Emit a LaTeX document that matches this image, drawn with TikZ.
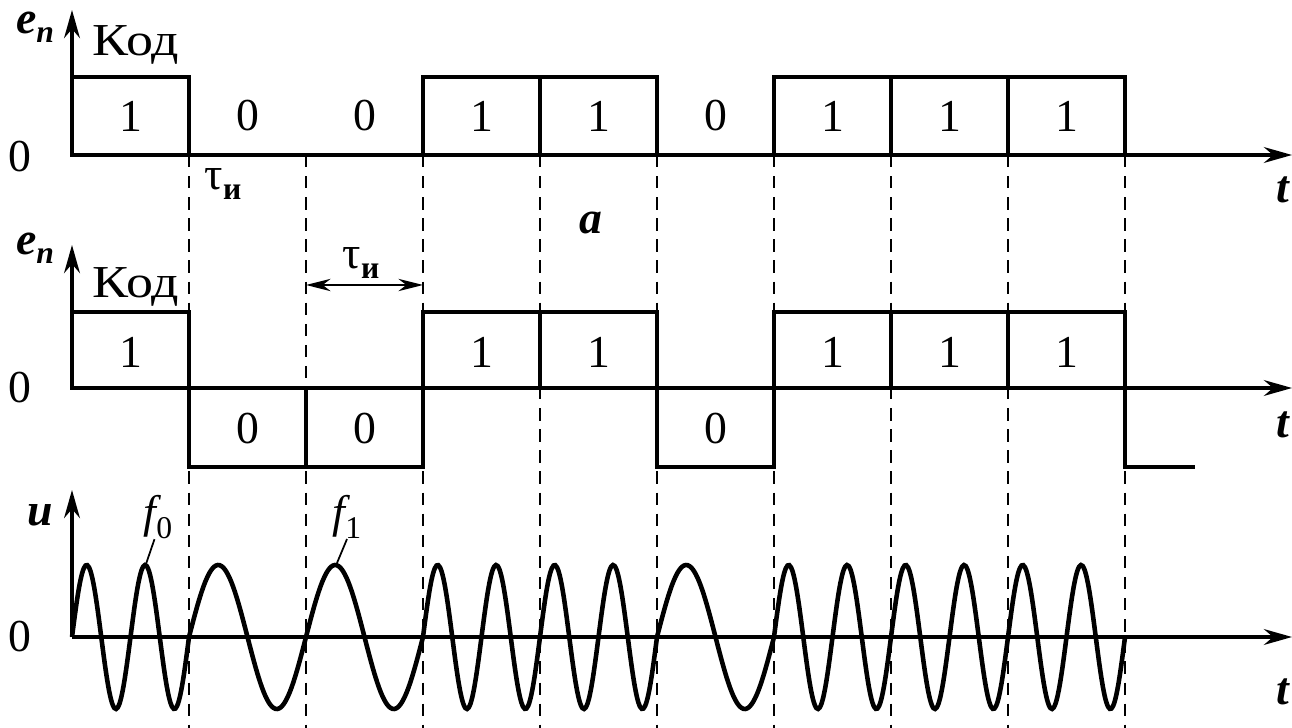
\documentclass[tikz,border=0pt]{standalone}
\usepackage{fontspec}
\setmainfont{Liberation Serif}
\usetikzlibrary{arrows.meta,positioning}
\newcommand{\enlbl}{{\bfseries\itshape e}\raisebox{-0.45ex}{\small\bfseries\itshape n}}
\newcommand{\taulbl}{τ\raisebox{-0.5ex}{\small\bfseries и}}
\newcommand{\kodlbl}{\scalebox{1.18}[1]{Код}}

\begin{document}
\begin{tikzpicture}[x=0.01cm,y=-0.01cm,
  sig/.style={line width=1.3pt,line join=miter},
  axis/.style={line width=0.9pt,-{Stealth[length=8pt,width=4.5pt]}},
  vline/.style={line width=0.6pt,dash pattern=on 3.5pt off 2.5pt},
  lbl/.style={font=\fontsize{13}{15}\selectfont,inner sep=1pt}]
\useasboundingbox (0,0) rectangle (1292,728);
% dashed bit boundaries
\foreach \x in {189,306,423,540,657,774,891,1008,1125} {\draw[vline] (\x,155) -- (\x,728);}
% a: code
\draw[axis] (72,155) -- (1292,155);
\draw[axis] (72,155) -- (72,10);
\draw[sig] (72,155) rectangle (189,77);
\draw[sig] (423,155) rectangle (540,77);
\draw[sig] (540,155) rectangle (657,77);
\foreach \x in {774,891,1008} {\draw[sig] (\x,155) rectangle (\x+117,77);}
\node[lbl] (enA) at (35,27) {\enlbl};
\node[lbl] (codeA) at (136,45) {\kodlbl};
\node[lbl] (zeroA) at (20,157) {0};
\node[lbl] (tauA) at (223,184) {\taulbl};
\node[lbl] (tA) at (1283,190) {\bfseries\itshape t};
\node[lbl] (capA) at (591,223) {\bfseries\itshape a};
\foreach \b [count=\i from 0] in {1,0,0,1,1,0,1,1,1} {\node[lbl] (bitA\i) at (72+117*\i+58.5,116) {\b};}
% b: bipolar code
\draw[axis] (72,388) -- (1292,388);
\draw[axis] (72,388) -- (72,245);
\draw[sig] (72,388) rectangle (189,312);
\draw[sig] (189,388) rectangle (306,467);
\draw[sig] (306,388) rectangle (423,467);
\draw[sig] (423,388) rectangle (540,312);
\draw[sig] (540,388) rectangle (657,312);
\draw[sig] (657,388) rectangle (774,467);
\foreach \x in {774,891,1008} {\draw[sig] (\x,388) rectangle (\x+117,312);}
\draw[sig] (1125,388) -- (1125,467) -- (1195,467);
\node[lbl] (enB) at (35,248) {\enlbl};
\node[lbl] (codeB) at (136,287) {\kodlbl};
\node[lbl] (zeroB) at (20,388) {0};
\node[lbl] (tB) at (1283,425) {\bfseries\itshape t};
\foreach \b/\y [count=\i from 0] in {1/352,0/429,0/429,1/352,1/352,0/429,1/352,1/352,1/352} {\node[lbl] (bitB\i) at (72+117*\i+58.5,\y) {\b};}
\coordinate (tauL) at (306,285);
\coordinate (tauR) at (423,285);
\draw[line width=0.6pt,{Stealth[length=7pt,width=3.5pt]}-{Stealth[length=7pt,width=3.5pt]}] (tauL) -- (tauR);
\node[lbl] (tauB) at (361,263) {\taulbl};
% c: FSK signal
\draw[axis] (72,637) -- (1292,637);
\draw[axis] (72,637) -- (72,490);
\foreach \b [count=\i from 0] in {1,0,0,1,1,0,1,1,1} {
  \pgfmathsetmacro\xa{72+117*\i}
  \pgfmathsetmacro\wk{360*(\b+1)/117}
  \draw[sig] plot[domain=0:117,samples=70,smooth] ({\xa+\x},{637-72*sin(\wk*\x)});
}
\node[lbl] (uC) at (40,515) {\bfseries\itshape u};
\node[lbl] (zeroC) at (20,637) {0};
\node[lbl] (tC) at (1283,692) {\bfseries\itshape t};
\node[lbl] (fzero) at (158,517) {\itshape f\raisebox{-0.5ex}{\upshape\small 0}};
\node[lbl] (fone) at (347,517) {\itshape f\raisebox{-0.5ex}{\upshape\small 1}};
\coordinate (pkA) at (146,564);
\coordinate (pkB) at (337,563);
\draw[line width=0.5pt] ([xshift=-1pt,yshift=1pt]fzero.south) -- (pkA);
\draw[line width=0.5pt] ([xshift=0pt,yshift=1pt]fone.south) -- (pkB);
\end{tikzpicture}
\end{document}
